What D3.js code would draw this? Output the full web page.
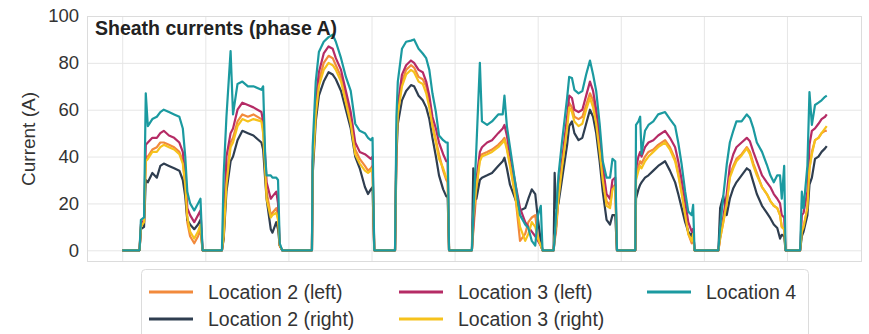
<!DOCTYPE html>
<html>
<head>
<meta charset="utf-8">
<script src="https://cdn.jsdelivr.net/npm/d3@7"></script>
<style>
  body { margin: 0; background: #fff; }
  svg { display: block; font-family: "Liberation Sans", Arial, sans-serif; }
</style>
</head>
<body>
<svg id="chart" width="869" height="334"></svg>
<script>
// time axis in hours (one row per sample, grouped by day block)
const hours = [
  0, 5.0,
  5.4, 6.3, 6.8, 7.4, 8.7, 10.0, 11.0, 12.0, 13.5, 15.0, 16.5, 17.5, 18.2, 18.8, 19.6, 20.8, 21.9, 22.6, 23.2, 28.8,
  29.3, 30.1, 31.3, 32.0, 33.3, 34.7, 36.3, 37.9, 40.2, 40.7, 41.3, 41.7, 42.9, 43.4, 44.5, 45.0, 45.5, 46.2, 54.8,
  55.0, 55.9, 56.8, 58.2, 59.6, 60.8, 61.7, 63.2, 64.6, 66.0, 67.3, 68.6, 70.1, 71.0, 71.8, 72.3, 72.8, 78.8,
  79.2, 79.6, 80.8, 82.0, 83.4, 84.3, 85.6, 86.8, 87.8, 88.7, 89.6, 90.6, 91.5, 92.7, 93.6, 94.0, 94.4, 101.0,
  101.4, 102.3, 103.3, 103.9, 105.4, 106.8, 108.6, 109.9, 110.4, 111.1, 112.0, 113.5, 114.9, 116.4, 117.3, 118.3, 119.3, 120.1, 120.9, 121.4, 124.6,
  124.9, 125.3, 126.0, 127.0, 128.5, 129.1, 129.9, 130.6, 131.8, 132.9, 134.0, 135.1, 136.0, 136.9, 137.9, 138.8, 139.9, 140.9, 141.6, 142.4, 142.9, 148.2,
  148.4, 149.1, 149.6, 150.0, 151.0, 152.0, 153.4, 154.8, 156.8, 158.2, 159.7, 160.6, 161.6, 162.6, 163.5, 164.5, 164.9, 165.3, 172.2,
  172.7, 173.6, 174.6, 175.5, 176.5, 177.4, 178.9, 180.4, 181.3, 182.3, 183.3, 184.8, 186.2, 187.2, 188.2, 189.2, 190.0, 190.5, 191.2, 191.6, 195.8,
  196.3, 196.8, 197.9, 198.5, 199.2, 200.1, 201.1, 202.0, 203.0, 203.5
];

const loc2Left = [
  0, 0,
  10, 12, 40, 40, 43, 44, 46, 46, 45, 44, 42, 38, 28, 12, 6, 3, 6, 9, 0, 0,
  5, 30, 46, 48, 55, 58, 57, 58, 56, 52, 36, 25, 15, 16, 18, 14, 2, 0, 0,
  36, 60, 72, 80, 83, 82, 79, 74, 65, 56, 43, 39, 36, 34, 35, 36, 0, 0,
  46, 60, 72, 77, 79, 78, 74, 73, 70, 63, 54, 47, 41, 34, 30, 29, 0, 0,
  8, 25, 40, 41, 42, 43, 45, 47, 48, 44, 37, 24, 4, 7, 12, 14, 15, 5, 2, 0, 0,
  4, 8, 22, 36, 54, 63, 61, 57, 56, 57, 62, 67, 64, 57, 44, 31, 21, 19, 27, 28, 0, 0,
  32, 36, 38, 37, 40, 42, 43, 45, 47, 44, 39, 33, 25, 16, 7, 3, 6, 0, 0,
  5, 12, 20, 32, 36, 39, 41, 44, 42, 37, 33, 27, 24, 21, 19, 18, 15, 10, 9, 0, 0,
  8, 10, 18, 35, 42, 47, 48, 50, 51, 51
];

const loc2Right = [
  0, 0,
  9, 10, 30, 29, 33, 31, 36, 37, 36, 35, 34, 30, 23, 13, 11, 9, 11, 13, 0, 0,
  5, 25, 38, 40, 47, 51, 50, 49, 46, 43, 30, 22, 9, 7.5, 12, 9, 2, 0, 0,
  32, 55, 66, 72, 76, 75, 73, 68, 60, 52, 40, 35, 27, 24, 26, 27, 0, 0,
  40, 54, 64, 68, 70.5, 70, 66, 64, 61, 56, 48, 40, 32, 26, 23, 23, 0, 0,
  35, 22, 30, 31, 32, 33, 36, 38, 39.5, 35, 28, 22, 17, 18, 22, 26, 24, 13, 4, 0, 0,
  33, 18, 20, 30, 45, 53, 55, 50, 47, 48, 54, 60, 57, 50, 38, 25, 13, 11, 15, 15, 0, 0,
  22, 26, 28, 29, 31, 32, 34, 36, 38, 34, 29, 24, 18, 12, 8, 6, 9, 0, 0,
  18, 23, 15, 22, 26.5, 29, 32, 35, 34, 29, 24, 19, 16, 13.7, 11, 9.5, 5, 6.6, 6, 0, 0,
  6, 8, 15, 28, 31, 39, 40, 42, 43.5, 44.5
];

const loc3Left = [
  0, 0,
  11, 13, 45, 46, 48, 48, 50, 51, 49, 48, 46, 42, 32, 18, 15, 12, 15, 17, 0, 0,
  8, 40, 50, 52, 60, 63, 62, 61, 59, 55, 40, 29, 22, 23, 25, 20, 2, 0, 0,
  38, 64, 76, 84, 87, 86, 82, 77, 68, 59, 46, 42, 41, 40, 39, 40, 0, 0,
  48, 62, 75, 79, 81, 80, 77, 76, 72, 66, 57, 52, 46, 41, 38, 38, 0, 0,
  10, 30, 42, 44, 46, 47, 50, 52, 53.5, 49, 41, 29, 18, 12, 10, 8, 6, 4, 2, 0, 0,
  5, 10, 24, 38, 57, 66, 65, 60, 59, 60, 66, 72, 68, 60, 48, 36, 24, 22, 30, 31, 0, 0,
  35, 40, 42, 40, 44, 46, 47, 49, 51, 48, 44, 38, 30, 21, 12, 8, 9, 0, 0,
  6, 14, 24, 36, 41, 44, 46, 48, 46.5, 42, 38, 32, 29, 27, 24, 22, 20, 15, 14, 0, 0,
  15, 16, 25, 45, 51, 52, 54, 56, 57, 58
];

const loc3Right = [
  0, 0,
  10, 12, 38, 39, 42, 42, 44, 45, 44, 43, 41, 37, 28, 14, 8, 5, 8, 11, 0, 0,
  6, 28, 44, 46, 53, 56, 55, 56, 55, 50, 34, 22, 14, 15, 16, 13, 2, 0, 0,
  35, 58, 70, 77, 80, 79, 77, 72, 63, 54, 41, 37, 34, 33, 34, 35, 0, 0,
  44, 58, 70, 75, 77, 76, 72, 71, 67, 61, 53, 46, 39, 35, 31, 31, 0, 0,
  14, 27, 38, 40, 41, 42, 44, 46, 47, 43, 36, 23, 10, 4, 7, 12, 10, 5, 2, 0, 0,
  6, 10, 22, 35, 52, 61, 59, 55, 53, 54, 60, 65, 61, 54, 42, 30, 19, 18, 26, 27, 0, 0,
  30, 34, 36, 35, 38, 40, 42, 44, 46, 43, 38, 32, 24, 15, 7, 4, 7, 0, 0,
  5, 12, 20, 31, 35, 38, 40.5, 43.5, 41, 36, 32, 27, 24, 21, 19, 18, 15, 10, 9, 0, 0,
  8, 10, 18, 35, 41, 47, 48, 50, 52, 53
];

const loc4 = [
  0, 0,
  13, 14, 67, 53, 56, 57, 59, 60, 59, 58, 57, 52, 40, 25, 20, 17, 20, 22, 0, 0,
  32, 57, 85, 58, 71, 72, 70, 70, 68.5, 70, 40, 32, 32, 31, 31, 30, 3, 0, 0,
  44, 72, 84.6, 89, 91, 92, 89, 82, 74, 68, 54, 51, 50, 48, 47, 48, 0, 0,
  57, 72, 86, 89, 89.5, 90, 86, 84, 82, 77, 67, 59, 49, 47, 46, 46, 0, 0,
  15, 44, 80, 55, 53.5, 55, 58, 58, 66, 53, 44, 29, 15, 11, 9.5, 4, 2, 15, 19, 0, 0,
  5, 15, 32, 46, 65, 74, 73.5, 68.5, 67, 68, 75, 81, 75, 68, 54, 38, 31, 31, 39, 38, 0, 0,
  53.5, 55, 57, 41, 51, 53.5, 55, 58, 59, 56, 53, 46, 36.5, 25, 16.5, 15, 19.4, 0, 0,
  10, 23, 36.5, 46, 51, 55, 55, 58, 56.5, 52, 46, 42, 36.5, 32, 29, 32, 32, 22, 36, 0, 0,
  25, 18, 36, 67.5, 53.5, 62, 63, 64, 65.5, 66
];

const seriesNames = ["Location 2 (left)", "Location 2 (right)", "Location 3 (left)", "Location 3 (right)", "Location 4"];
const seriesValues = [loc2Left, loc2Right, loc3Left, loc3Right, loc4];
const seriesColors = ["#f28a3c", "#2f3e50", "#b52b65", "#f6c21c", "#1b9aa0"];
const yTicks = [0, 20, 40, 60, 80, 100];
const dayTicks = [0, 24, 48, 72, 96, 120, 144, 168, 192];

const plot = { left: 87, right: 862, top: 16, bottom: 262 };
const svg = d3.select("#chart");

const xMax = d3.max(hours);
const x = d3.scaleLinear()
  .domain([-0.05 * xMax, 1.05 * xMax])
  .range([plot.left, plot.right]);
const y = d3.scaleLinear()
  .domain([-5, 100])
  .range([plot.bottom, plot.top]);

// grid
svg.append("g")
  .attr("transform", "translate(0," + plot.bottom + ")")
  .call(d3.axisBottom(x).tickValues(dayTicks).tickSize(-(plot.bottom - plot.top)).tickFormat(""))
  .call(g => g.select(".domain").remove())
  .call(g => g.selectAll("line").attr("stroke", "#e6e6e6").attr("stroke-width", 1));

svg.append("g")
  .attr("transform", "translate(" + plot.left + ",0)")
  .call(d3.axisLeft(y).tickValues(yTicks).tickSize(-(plot.right - plot.left)).tickPadding(8).tickFormat(d3.format("d")))
  .call(g => g.select(".domain").remove())
  .call(g => g.selectAll("line").attr("stroke", "#e6e6e6").attr("stroke-width", 1))
  .call(g => g.selectAll("text")
    .attr("fill", "#333")
    .style("font-size", "18.5px")
    .style("font-family", "'Liberation Sans', Arial, sans-serif"));

svg.append("rect")
  .attr("x", plot.left + 0.5)
  .attr("y", plot.top + 0.5)
  .attr("width", plot.right - plot.left - 1)
  .attr("height", plot.bottom - plot.top - 1)
  .attr("fill", "none")
  .attr("stroke", "#dcdcdc");

// series lines
const line = d3.line()
  .x((d, i) => x(hours[i]))
  .y(d => y(d));

svg.append("g")
  .selectAll("path")
  .data(seriesValues)
  .enter()
  .append("path")
  .attr("d", d => line(d))
  .attr("fill", "none")
  .attr("stroke", (d, i) => seriesColors[i])
  .attr("stroke-width", 2.2)
  .attr("stroke-linejoin", "round");

// title + axis label
svg.append("text")
  .attr("x", 95)
  .attr("y", 35)
  .attr("fill", "#222")
  .style("font-size", "19.5px")
  .style("font-weight", "bold")
  .text("Sheath currents (phase A)");

svg.append("text")
  .attr("transform", "translate(35," + (plot.top + plot.bottom) / 2 + ") rotate(-90)")
  .attr("text-anchor", "middle")
  .attr("fill", "#333")
  .style("font-size", "19px")
  .text("Current (A)");

// legend (3 columns, filled column by column)
const legendCols = [149, 399, 647];
const legendRows = [292, 319];

svg.append("rect")
  .attr("x", 141.5)
  .attr("y", 269.5)
  .attr("width", 667)
  .attr("height", 80)
  .attr("rx", 4)
  .attr("fill", "#fff")
  .attr("stroke", "#dcdcdc");

const items = svg.append("g")
  .selectAll("g")
  .data(seriesNames)
  .enter()
  .append("g")
  .attr("transform", (d, i) => "translate(" + legendCols[Math.floor(i / 2)] + "," + legendRows[i % 2] + ")");

items.append("line")
  .attr("x1", 0)
  .attr("x2", 44)
  .attr("stroke", (d, i) => seriesColors[i])
  .attr("stroke-width", 3);

items.append("text")
  .attr("x", 59)
  .attr("y", 7)
  .attr("fill", "#333")
  .style("font-size", "19.5px")
  .text(d => d);
</script>
</body>
</html>
